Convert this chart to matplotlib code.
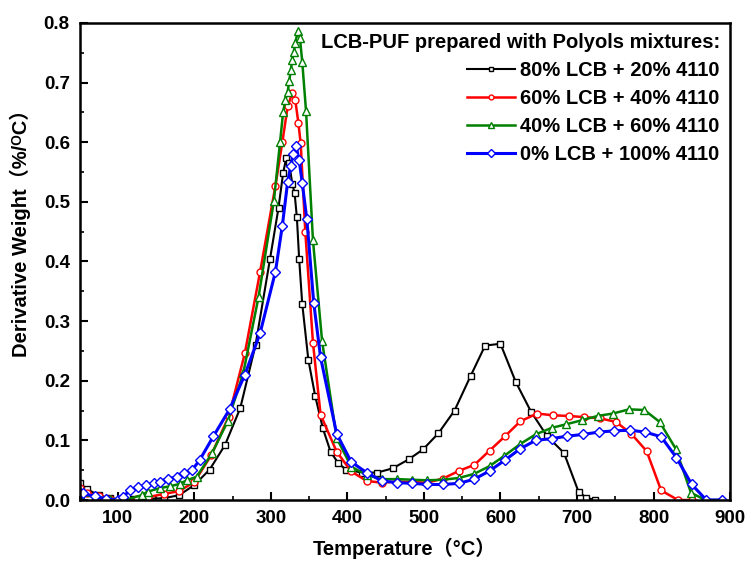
import matplotlib
matplotlib.use("Agg")
import matplotlib.pyplot as plt
from matplotlib.ticker import MultipleLocator

plt.rcParams['font.family'] = ['Liberation Sans', 'DejaVu Sans', 'Noto Sans CJK SC']
plt.rcParams['font.weight'] = 'bold'

# 80% LCB + 20% 4110
t_80 = [50, 60, 75, 90, 105, 120, 140, 160, 180, 200, 220, 240, 260, 280, 299, 310, 316,
        320, 324, 328, 331, 334, 337, 341, 349, 358, 368, 378, 388, 398, 419, 439, 459,
        480, 499, 519, 540, 561, 580, 600, 620, 640, 661, 683, 702, 712, 723]
dw_80 = [0.028, 0.018, 0.008, 0.003, 0.001, 0.001, 0.002, 0.003, 0.008, 0.025, 0.051, 0.092,
         0.154, 0.260, 0.405, 0.490, 0.548, 0.573, 0.565, 0.530, 0.515, 0.474, 0.404, 0.329,
         0.235, 0.174, 0.120, 0.081, 0.062, 0.051, 0.046, 0.046, 0.053, 0.068, 0.085, 0.112,
         0.150, 0.208, 0.259, 0.262, 0.198, 0.148, 0.107, 0.079, 0.014, 0.004, 0.0]

# 60% LCB + 40% 4110
t_60 = [50, 60, 75, 90, 110, 125, 140, 160, 180, 200, 222, 245, 266, 286, 306, 315, 322,
        328, 332, 336, 339, 345, 355, 365, 386, 405, 425, 445, 465, 485, 504, 525, 546,
        566, 586, 606, 626, 648, 669, 689, 709, 730, 751, 771, 791, 810, 832, 850]
dw_60 = [0.020, 0.012, 0.006, 0.002, 0.0, 0.002, 0.005, 0.010, 0.015, 0.030, 0.075, 0.140,
         0.246, 0.383, 0.527, 0.600, 0.660, 0.683, 0.670, 0.632, 0.598, 0.450, 0.264, 0.143,
         0.081, 0.048, 0.032, 0.029, 0.031, 0.030, 0.029, 0.036, 0.049, 0.059, 0.083, 0.107,
         0.132, 0.145, 0.142, 0.141, 0.139, 0.137, 0.131, 0.111, 0.082, 0.016, 0.0, 0.0]

# 40% LCB + 60% 4110
t_40 = [50, 70, 90, 110, 131, 139, 155, 168, 181, 190, 203, 223, 244, 264, 284, 304, 312,
        316, 319, 322, 324, 326, 328, 330, 332, 335, 338, 341, 346, 355, 367, 386, 405,
        425, 445, 465, 485, 504, 525, 546, 566, 586, 605, 626, 646, 667, 686, 707, 727,
        747, 768, 788, 808, 829, 849, 868, 890]
dw_40 = [0.010, 0.005, 0.002, 0.0, 0.008, 0.014, 0.020, 0.023, 0.027, 0.033, 0.039, 0.078,
         0.133, 0.213, 0.341, 0.502, 0.600, 0.650, 0.671, 0.685, 0.702, 0.721, 0.738, 0.752,
         0.766, 0.786, 0.775, 0.735, 0.652, 0.436, 0.266, 0.104, 0.056, 0.042, 0.035, 0.035,
         0.034, 0.033, 0.034, 0.037, 0.044, 0.057, 0.074, 0.094, 0.110, 0.121, 0.127, 0.134,
         0.141, 0.145, 0.152, 0.151, 0.131, 0.086, 0.012, 0.0, 0.0]

# 0% LCB + 100% 4110
t_0 = [50, 55, 70, 85, 100, 107, 116, 127, 137, 147, 155, 165, 177, 186, 197, 207, 225,
       246, 266, 286, 306, 315, 322, 326, 329, 333, 337, 341, 347, 356, 365, 386, 405, 425,
       445, 465, 485, 504, 525, 546, 566, 586, 606, 626, 646, 667, 687, 708, 729, 749, 769,
       789, 810, 830, 850, 869, 890]
dw_0 = [0.012, 0.011, 0.006, 0.002, 0.0, 0.005, 0.017, 0.021, 0.025, 0.028, 0.031, 0.036,
        0.038, 0.045, 0.050, 0.067, 0.107, 0.152, 0.210, 0.280, 0.383, 0.460, 0.534, 0.560,
        0.580, 0.593, 0.570, 0.532, 0.471, 0.331, 0.239, 0.111, 0.064, 0.046, 0.032, 0.029,
        0.028, 0.026, 0.026, 0.028, 0.035, 0.049, 0.067, 0.086, 0.100, 0.103, 0.107, 0.110,
        0.114, 0.116, 0.117, 0.114, 0.106, 0.071, 0.026, 0.0, 0.0]

labels = ["80% LCB + 20% 4110", "60% LCB + 40% 4110", "40% LCB + 60% 4110", "0% LCB + 100% 4110"]

fig = plt.figure(figsize=(7.46, 5.63), dpi=100)
ax = fig.add_axes([0.1066, 0.1119, 0.872, 0.8473])

ax.plot(t_80, dw_80, color="black", lw=1.5, marker="s", ms=4.5, mfc="white", mew=1.0, label=labels[0])
ax.plot(t_60, dw_60, color="red", lw=1.8, marker="o", ms=5, mfc="white", mew=1.0, label=labels[1])
ax.plot(t_40, dw_40, color="green", lw=1.8, marker="^", ms=6, mfc="white", mew=1.0, label=labels[2])
ax.plot(t_0, dw_0, color="blue", lw=2.2, marker="D", ms=5.5, mfc="white", mew=1.0, label=labels[3])

ax.set_xlim(50, 900)
ax.set_ylim(0, 0.8)
ax.xaxis.set_major_locator(MultipleLocator(100))
ax.xaxis.set_minor_locator(MultipleLocator(50))
ax.yaxis.set_major_locator(MultipleLocator(0.1))
ax.yaxis.set_minor_locator(MultipleLocator(0.05))
ax.set_xticks([100, 200, 300, 400, 500, 600, 700, 800, 900])
ax.tick_params(which="major", direction="in", length=6, width=1.5, labelsize=13.5, pad=7)
ax.tick_params(which="minor", direction="in", length=3, width=1.2)
for lbl in ax.get_xticklabels() + ax.get_yticklabels():
    lbl.set_fontweight("bold")
for sp in ax.spines.values():
    sp.set_linewidth(1.8)

ax.set_xlabel("Temperature\uff08°C\uff09", fontsize=14.5, fontweight="bold", labelpad=8,
              family=['Liberation Sans', 'Noto Sans CJK SC'])
ax.set_ylabel("Derivative Weight\uff08%/\u1d3cC\uff09", fontsize=14.5, fontweight="bold",
              family=['Liberation Sans', 'DejaVu Sans', 'Noto Sans CJK SC'])
ax.yaxis.set_label_coords(-0.075, 0.57)

leg = ax.legend(loc="upper right", frameon=False, title="LCB-PUF prepared with Polyols mixtures:",
                prop={"size": 14.5, "weight": "bold"}, title_fontproperties={"size": 14.5, "weight": "bold"},
                alignment="right", handlelength=2.4, handletextpad=0.25, labelspacing=0.45,
                numpoints=1, markerscale=0.7, borderaxespad=0.1)

fig.savefig("out.png", dpi=100)
